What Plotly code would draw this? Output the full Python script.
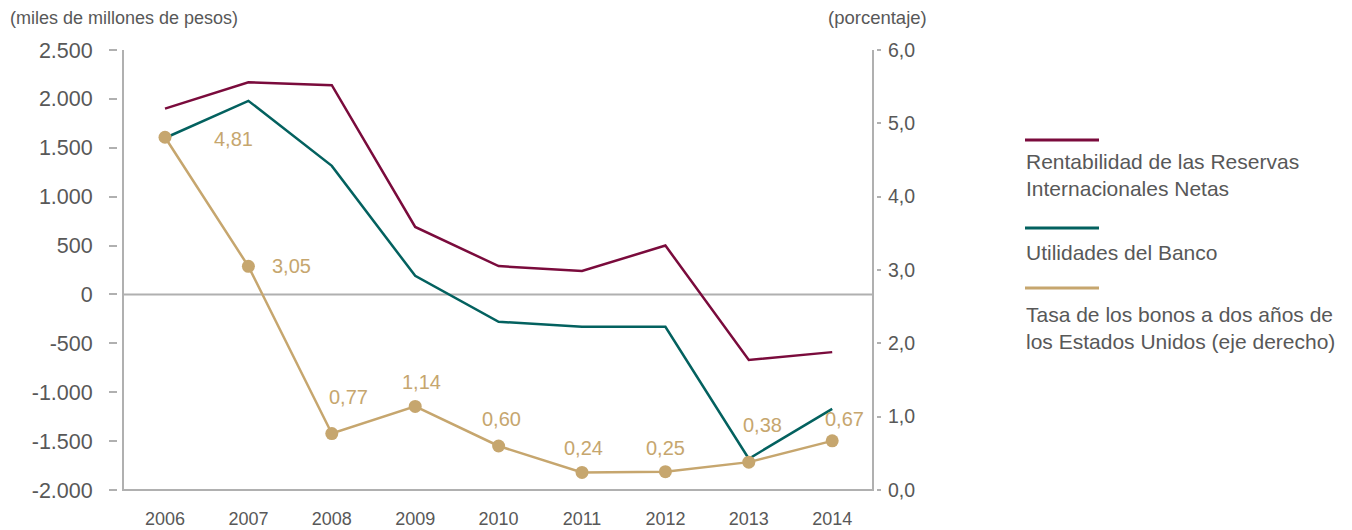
import plotly.graph_objs as go

years = [2006, 2007, 2008, 2009, 2010, 2011, 2012, 2013, 2014]
rentabilidad = [1900, 2170, 2140, 690, 290, 240, 500, -670, -590]
utilidades = [1600, 1980, 1315, 190, -280, -330, -330, -1680, -1170]
tasa_bonos = [4.81, 3.05, 0.77, 1.14, 0.60, 0.24, 0.25, 0.38, 0.67]

left_ticks = [-2000, -1500, -1000, -500, 0, 500, 1000, 1500, 2000, 2500]
left_labels = ["-2.000", "-1.500", "-1.000", "-500", "0", "500", "1.000", "1.500", "2.000", "2.500"]
right_ticks = [0, 1, 2, 3, 4, 5, 6]
right_labels = ["0,0", "1,0", "2,0", "3,0", "4,0", "5,0", "6,0"]

names = ["Rentabilidad de las Reservas<br>Internacionales Netas",
         "Utilidades del Banco",
         "Tasa de los bonos a dos años de<br>los Estados Unidos (eje derecho)"]

MAROON = "#7a0b3c"
TEAL = "#03615f"
GOLD = "#c6a66e"
GREY_TXT = "#585858"
AXIS = "#b0b0b0"
FONT = "Liberation Sans, Arial, sans-serif"

# the page body adds an 8px margin, so work in page pixels and subtract it
OFF = 8
W, H = 1352 - OFF, 530 - OFF
L, R, T, B = 118, 876, 50, 490   # plot area, page pixels
pw, ph = R - L, B - T

def px(x):
    return (x - L) / pw

def py(y):
    return 1 - (y - T) / ph

fig = go.Figure()
fig.add_trace(go.Scatter(x=years, y=rentabilidad, mode="lines",
                         line=dict(color=MAROON, width=2.5), yaxis="y"))
fig.add_trace(go.Scatter(x=years, y=utilidades, mode="lines",
                         line=dict(color=TEAL, width=2.5), yaxis="y"))
fig.add_trace(go.Scatter(x=years, y=tasa_bonos, mode="lines+markers",
                         line=dict(color=GOLD, width=2.5),
                         marker=dict(color=GOLD, size=13), yaxis="y2"))

# value labels on the gold series (pixel offsets from each point)
offsets = [(68, 2), (43, 0), (17, -37), (6, -24), (3, -27), (1, -24), (0, -24), (14, -37), (12, -22)]
annotations = []
for yr, v, (dx, dy) in zip(years, tasa_bonos, offsets):
    annotations.append(dict(x=yr, y=v, xref="x", yref="y2", text=f"{v:.2f}".replace(".", ","),
                            showarrow=False, xshift=dx, yshift=-dy,
                            font=dict(size=20, color=GOLD, family=FONT)))

annotations.append(dict(x=px(9), y=py(18), xref="paper", yref="paper",
                        text="(miles de millones de pesos)", showarrow=False,
                        xanchor="left", yanchor="middle", borderpad=0,
                        font=dict(size=18, color=GREY_TXT, family=FONT)))
annotations.append(dict(x=px(877), y=py(18), xref="paper", yref="paper",
                        text="(porcentaje)", showarrow=False,
                        xanchor="center", yanchor="middle",
                        font=dict(size=18.5, color=GREY_TXT, family=FONT)))

shapes = [
    dict(type="line", xref="paper", yref="paper", x0=px(123), x1=px(123), y0=0, y1=1,
         line=dict(color=AXIS, width=2)),
    dict(type="line", xref="paper", yref="paper", x0=px(873), x1=px(873), y0=0, y1=1,
         line=dict(color=AXIS, width=2)),
    dict(type="line", xref="paper", yref="paper", x0=px(122), x1=px(874), y0=0, y1=0,
         line=dict(color=AXIS, width=2)),
    dict(type="line", xref="paper", yref="y", x0=px(123), x1=px(873), y0=0, y1=0,
         line=dict(color=AXIS, width=2), layer="below"),
]

# legend drawn by hand: short line above each label
legend_items = [(MAROON, 140, 175), (TEAL, 228, 252), (GOLD, 288, 328)]
for (color, ly, ty), name in zip(legend_items, names):
    shapes.append(dict(type="line", xref="paper", yref="paper", x0=px(1025), x1=px(1099),
                       y0=py(ly), y1=py(ly), line=dict(color=color, width=3)))
    annotations.append(dict(x=px(1024), y=py(ty), xref="paper", yref="paper",
                            text=name, showarrow=False, xanchor="left", yanchor="middle",
                            align="left",
                            font=dict(size=21, color=GREY_TXT, family=FONT)))

step = 83.4
x0 = 2006 - (165 - L) / step
x1 = x0 + pw / step

fig.update_layout(
    width=W, height=H,
    margin=dict(l=L - OFF, r=W - (R - OFF), t=T - OFF, b=H - (B - OFF), autoexpand=False),
    plot_bgcolor="white", paper_bgcolor="white",
    showlegend=False,
    font=dict(family=FONT, color=GREY_TXT),
    xaxis=dict(range=[x0, x1], tickvals=years, ticktext=[str(y) for y in years],
               showline=False, showgrid=False, zeroline=False, ticks="", automargin=False,
               tickfont=dict(size=18, color=GREY_TXT), ticklabelstandoff=16),
    yaxis=dict(range=[-2000, 2500], tickvals=left_ticks, ticktext=left_labels,
               showline=False, showgrid=False, zeroline=False, automargin=False,
               ticks="outside", ticklen=8, tickcolor=AXIS, tickwidth=1.5,
               tickfont=dict(size=21.5, color=GREY_TXT), ticklabelstandoff=12),
    yaxis2=dict(range=[0, 6], tickvals=right_ticks, ticktext=right_labels,
                overlaying="y", side="right", automargin=False,
                showline=False, showgrid=False, zeroline=False,
                ticks="outside", ticklen=4, tickcolor=AXIS, tickwidth=1.5,
                tickfont=dict(size=19.5, color=GREY_TXT), ticklabelstandoff=3),
    shapes=shapes,
    annotations=annotations,
)

fig.write_html("out.html")
